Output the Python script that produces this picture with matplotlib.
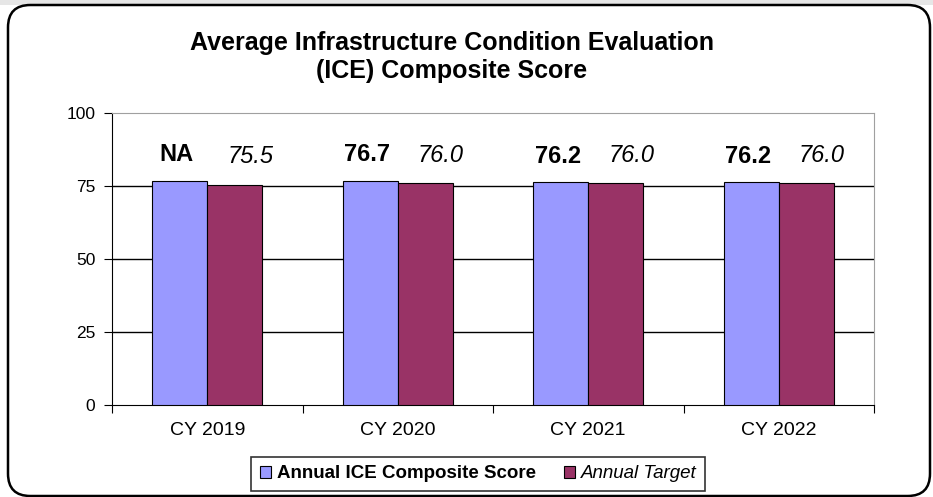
import numpy as np
import matplotlib.pyplot as plt
from matplotlib.patches import FancyBboxPatch, Rectangle

plt.rcParams['font.family'] = ['Liberation Sans', 'DejaVu Sans']

categories = ['CY 2019', 'CY 2020', 'CY 2021', 'CY 2022']
score = [76.7, 76.7, 76.2, 76.2]
score_labels = ['NA', '76.7', '76.2', '76.2']
target = [75.5, 76.0, 76.0, 76.0]
target_labels = ['75.5', '76.0', '76.0', '76.0']

blue = '#9999FF'
maroon = '#993366'

fig = plt.figure(figsize=(9.33, 4.97), dpi=100)

# gray strip on top and rounded frame
fig.patches.append(Rectangle((0, 1 - 5/497), 1, 5/497, transform=fig.transFigure,
                             facecolor='#e6e6e6', edgecolor='none', zorder=0))
fig.patches.append(FancyBboxPatch((8/933, 1/497), 922/933, (497 - 6)/497,
                                  boxstyle='round,pad=0,rounding_size=0.024',
                                  transform=fig.transFigure, facecolor='white',
                                  edgecolor='black', linewidth=1.8, zorder=1,
                                  mutation_aspect=933/497))

ax = fig.add_axes([112/933, 1 - 405/497, (874 - 112)/933, (405 - 113)/497])
ax.set_zorder(2)

x = np.arange(len(categories))
w = 0.29
b1 = ax.bar(x - w/2, score, w, color=blue, edgecolor='black', linewidth=0.8, zorder=3,
            label='Annual ICE Composite Score')
b2 = ax.bar(x + w/2, target, w, color=maroon, edgecolor='black', linewidth=0.8, zorder=3,
            label='Annual Target')

for i in range(len(categories)):
    ax.annotate(score_labels[i], (x[i] - w/2, score[i]), xytext=(-2, 19),
                textcoords='offset points', ha='center', va='center',
                fontsize=17, fontweight='bold')
    ax.annotate(target_labels[i], (x[i] + w/2, target[i]), xytext=(11, 20),
                textcoords='offset points', ha='center', va='center',
                fontsize=17, fontstyle='italic')

ax.set_xlim(-0.5, len(categories) - 0.5)
ax.set_ylim(0, 100)
ax.set_yticks([0, 25, 50, 75, 100])
ax.tick_params(axis='y', direction='out', length=6, labelsize=12.5, pad=6)
for yv in [25, 50, 75]:
    ax.axhline(yv, color='black', linewidth=1, zorder=1)

ax.set_xticks(np.arange(-0.5, len(categories)), labels=[])
ax.set_xticks(x, labels=categories, minor=True)
ax.tick_params(axis='x', which='major', direction='out', length=6)
ax.tick_params(axis='x', which='minor', length=0, labelsize=14, pad=12)

for s in ['top', 'right']:
    ax.spines[s].set_color('#a0a0a0')
for s in ['left', 'bottom']:
    ax.spines[s].set_color('black')

fig.text(452/933, 1 - 57/497, 'Average Infrastructure Condition Evaluation\n(ICE) Composite Score',
         ha='center', va='center', fontsize=18, fontweight='bold', linespacing=1.2)

leg = fig.legend(handles=[b1, b2], loc='center', bbox_to_anchor=(478/933, 1 - 474/497),
                 ncol=2, frameon=True, fancybox=False, edgecolor='black', fontsize=13.5,
                 handlelength=0.6, handleheight=0.6, handletextpad=0.3, columnspacing=1.5,
                 borderpad=0.45)
leg.get_frame().set_linewidth(1.2)
leg.get_texts()[0].set_fontweight('bold')
leg.get_texts()[1].set_fontstyle('italic')

fig.savefig('out.png', dpi=100)
